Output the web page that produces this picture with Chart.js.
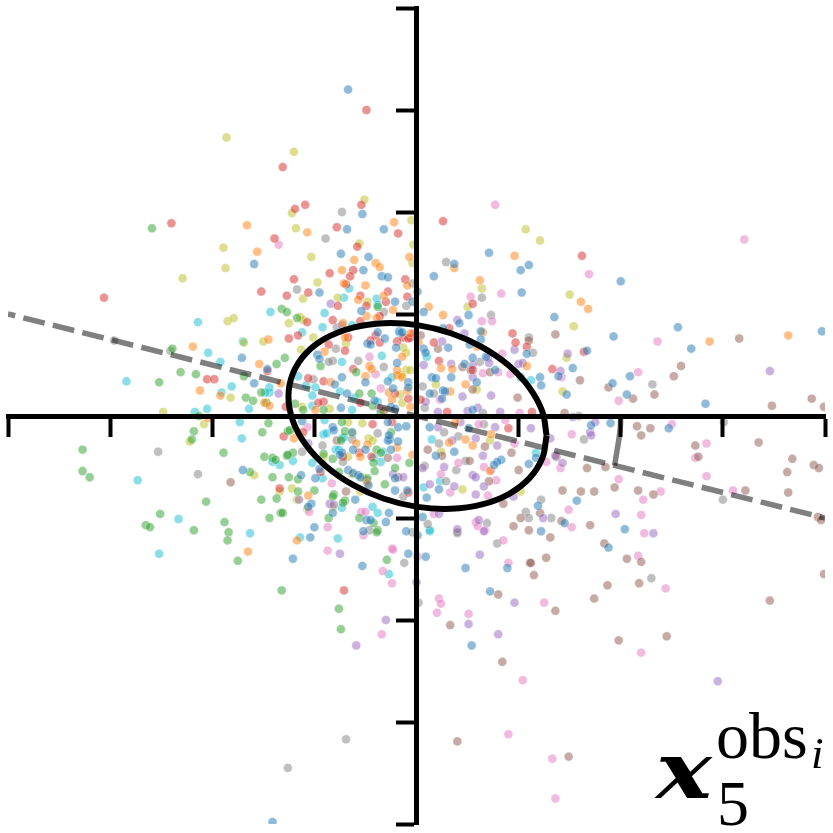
<!DOCTYPE html>
<html>
<head>
<meta charset="utf-8">
<style>html,body{margin:0;padding:0;background:#fff}canvas{display:block}</style>
<script src="https://cdn.jsdelivr.net/npm/chart.js@4"></script>
</head>
<body>
<canvas id="c" width="833" height="833"></canvas>
<script>
const tickValues = [-400,-300,-200,-100,0,100,200,300,400];
const seriesNames = ['0','1','2','3','4','5','6','7','8','9'];
const blue = [[-67,320],[-159,149],[-171,57],[-146,46],[-159,32],[-170,-53],[-53,198],[-68,183],[-32,183],[-74,159],[-47,156],[-52,143],[-34,137],[-28,136],[-95,121],[-21,112],[-4,112],[-54,103],[-38,82],[-31,76],[-48,71],[-45,70],[-20,67],[-17,83],[-14,82],[-97,60],[-95,56],[-19,52],[-50,33],[-28,34],[-8,33],[-8,28],[-80,31],[-73,38],[-68,22],[-41,15],[-23,27],[-25,9],[-21,7],[-74,8],[-112,-5],[-82,-11],[-81,-14],[-63,-16],[-73,-36],[-75,-38],[-62,-33],[-50,-33],[-26,-23],[-28,-24],[-27,-19],[-18,-11],[-10,-10],[-28,-6],[-25,-33],[-18,-25],[-67,-53],[-62,-56],[-57,-58],[-55,-60],[-95,-52],[-113,-58],[-99,-61],[-21,-61],[-47,-68],[-21,-73],[-9,-73],[-60,-82],[-103,-86],[-106,-89],[-82,-95],[-27,-95],[-30,-104],[-49,-102],[-45,-102],[-100,-109],[-52,-113],[-10,-113],[1,-117],[-104,-119],[-121,-140],[-8,-135],[9,-138],[89,-149],[48,-149],[-53,-147],[72,-172],[54,-225],[-141,-398],[188,-129],[135,97],[193,78],[256,87],[397,83],[269,66],[167,64],[153,47],[139,39],[192,32],[209,39],[147,21],[206,21],[283,12],[171,-9],[190,-7],[247,-12],[157,-83],[145,-105],[204,-111],[71,160],[110,148],[102,143],[37,149],[200,132],[17,137],[1,122],[103,121],[7,102],[51,99],[42,91],[26,86],[63,83],[63,75],[52,70],[31,67],[108,61],[7,66],[9,62],[55,57],[68,58],[47,51],[77,45],[102,38],[121,38],[122,30],[15,38],[19,37],[34,38],[59,33],[26,25],[28,24],[13,22],[25,17],[55,6],[13,-11],[51,-12],[37,-35],[19,-39],[83,-43],[79,-45],[76,-48],[117,-41],[110,-47],[22,-72],[10,-80],[119,-88],[6,-99],[122,-113]];
const orange = [[-166,187],[-156,161],[-145,75],[-219,68],[-154,51],[-133,32],[-212,25],[-192,20],[-149,13],[-144,10],[-204,-2],[-165,-133],[-22,190],[-107,180],[-61,153],[-7,156],[-40,150],[-36,146],[-73,143],[-9,128],[-71,130],[-50,128],[-57,114],[-32,118],[-23,104],[-49,98],[-72,91],[-39,96],[-70,77],[-6,81],[-90,63],[-14,58],[-46,49],[-44,46],[-50,39],[-19,45],[-19,40],[-14,38],[-84,33],[-27,23],[-24,16],[-9,25],[-99,6],[-6,9],[-120,-22],[-59,-27],[-48,-28],[-55,-40],[-19,-31],[-4,-38],[-48,-66],[-106,-78],[-117,-122],[161,112],[168,105],[287,73],[364,79],[96,157],[37,145],[62,133],[12,107],[26,99],[65,82],[59,68],[2,72],[35,46],[24,47],[108,49],[48,31],[33,24],[38,-6],[48,-23],[32,-26],[55,-29],[73,-18],[72,-54]];
const green = [[-259,184],[-132,105],[-239,66],[-137,51],[-231,43],[-216,41],[-252,33],[-169,39],[-167,18],[-160,15],[-152,23],[-147,13],[-213,0],[-145,-7],[-218,-15],[-151,-16],[-220,-23],[-327,-33],[-189,-36],[-149,-40],[-141,-41],[-138,-43],[-127,-39],[-327,-54],[-320,-60],[-163,-55],[-141,-60],[-206,-84],[-152,-82],[-137,-81],[-251,-96],[-133,-95],[-144,-100],[-265,-107],[-261,-109],[-188,-104],[-218,-112],[-184,-114],[-185,-122],[-175,-142],[-127,102],[-117,96],[-38,107],[-129,57],[-94,49],[-59,43],[-56,22],[-91,6],[-119,12],[-111,6],[-44,22],[-43,10],[-35,3],[-126,-15],[-124,-14],[-73,-6],[-70,-15],[-74,-24],[-91,-37],[-39,-33],[-121,-36],[-126,-38],[-82,-42],[-25,-16],[-35,-36],[-42,-46],[-7,-46],[-76,-55],[-21,-51],[-41,-54],[-125,-60],[-116,-62],[-48,-61],[-31,-67],[-100,-73],[-116,-74],[-81,-77],[-82,-79],[-70,-83],[-72,-85],[-86,-100],[-131,-95],[-56,-100],[-42,-105],[-38,-112],[-39,-114],[-29,-141],[-132,-171],[-76,-189],[-74,-209]];
const red = [[-49,300],[-131,244],[-240,189],[-139,174],[-152,122],[-306,116],[-205,36],[-198,36],[-146,44],[-130,-20],[-134,-71],[-54,207],[-109,207],[-119,203],[-18,179],[-78,185],[-58,166],[-62,143],[-85,140],[-65,137],[-120,134],[-11,134],[-69,129],[-106,121],[-28,122],[-127,118],[-55,118],[-9,117],[-30,112],[-77,108],[-49,108],[-36,98],[-107,92],[-82,94],[-55,93],[-116,79],[-125,76],[-40,79],[-67,77],[-3,81],[-13,77],[-86,70],[-70,64],[-45,74],[-36,72],[-19,73],[-6,77],[-8,76],[-62,46],[-106,37],[-91,34],[-91,14],[-96,13],[-55,13],[-128,9],[-21,22],[-8,17],[-32,5],[-111,-16],[-43,-8],[-24,-6],[-56,-36],[-72,-40],[-94,-55],[-44,-40],[-8,-75],[-71,-171],[164,63],[133,46],[26,191],[162,157],[55,110],[32,86],[94,81],[97,72],[17,72],[108,68],[22,54],[55,45],[4,16],[30,4],[113,4],[90,-12]];
const purple = [[-135,22],[-84,110],[-73,89],[-106,-27],[-23,-57],[-13,-60],[-115,-82],[-85,-86],[-81,-87],[-75,-135],[0,-163],[62,-136],[66,-113],[96,-183],[-30,-200],[51,-204],[80,-214],[-59,-225],[295,-260],[148,61],[141,44],[346,44],[153,-1],[175,-6],[170,-16],[171,-19],[131,-22],[136,-39],[143,-46],[195,-96],[232,-115],[40,94],[47,81],[25,73],[96,65],[70,57],[34,51],[55,50],[71,52],[100,51],[104,52],[7,50],[55,38],[45,19],[73,20],[60,8],[50,5],[82,4],[9,14],[21,4],[77,-11],[112,-12],[43,-6],[21,-11],[35,-24],[58,-22],[79,-29],[65,-39],[27,-50],[6,-51],[55,-58],[58,-60],[66,-69],[37,-69],[13,-67],[58,-77],[95,-79],[124,-100],[22,-96],[61,-102],[40,-111]];
const brown = [[-182,-65],[-78,-24],[-28,-41],[-18,-60],[-49,-63],[-69,-74],[80,-175],[111,-144],[33,-205],[84,-241],[40,-319],[184,-125],[127,-139],[112,-144],[115,-156],[206,-140],[220,-143],[187,-166],[218,-164],[174,-179],[136,-191],[399,-155],[346,-181],[198,-220],[245,-216],[149,-334],[136,80],[316,76],[259,49],[252,39],[160,35],[188,28],[212,17],[233,21],[387,17],[348,10],[399,9],[145,3],[216,-10],[229,-12],[220,-19],[273,-29],[335,-26],[137,-40],[276,-40],[368,-42],[167,-51],[185,-50],[389,-48],[394,-51],[363,-55],[194,-70],[143,-73],[161,-74],[174,-74],[217,-73],[232,-77],[322,-73],[364,-75],[393,-99],[396,-102],[142,-103],[170,-107],[131,-119],[4,79],[21,66],[110,74],[45,48],[53,45],[72,43],[55,26],[99,18],[11,-33],[67,-30],[25,-39],[93,-36],[52,-44],[100,-53],[71,-64],[85,-86],[102,-100],[121,-95],[95,-108],[110,-112]];
const pink = [[321,173],[-135,168],[-46,58],[-40,41],[-35,27],[-37,8],[-107,-11],[-19,-41],[-83,-66],[-105,-94],[-54,-94],[-50,-94],[-87,-109],[-52,-117],[-87,-132],[-24,-130],[-23,-131],[1,-138],[90,-144],[85,-122],[-33,-152],[-24,-164],[22,-179],[24,-184],[20,-193],[51,-194],[-34,-214],[104,-259],[90,-312],[217,-137],[244,-169],[125,-183],[220,-232],[133,-336],[136,-375],[236,73],[142,38],[217,43],[198,15],[250,-8],[152,-18],[284,-27],[273,-41],[141,-51],[284,-59],[198,-62],[239,-74],[310,-73],[222,-82],[149,-92],[220,-97],[152,-109],[223,-115],[77,207],[169,139],[83,120],[53,117],[64,93],[74,93],[84,61],[65,42],[80,43],[92,41],[23,16],[101,3],[87,-4],[61,-8],[41,-46],[66,-50],[96,-27],[127,-45],[73,-53],[24,-57],[78,-63],[33,-75],[70,-78],[17,-96],[58,-104],[60,-108],[67,-112]];
const gray = [[-241,64],[-296,74],[-253,-35],[-214,-57],[-73,200],[-89,174],[-4,130],[-117,124],[-10,108],[-32,102],[-78,87],[-79,66],[-82,54],[-86,53],[-57,54],[-32,48],[-101,36],[-38,-17],[-63,-23],[-92,-29],[-72,-45],[-112,-35],[-13,-79],[-46,-112],[-4,-114],[-12,-144],[2,-183],[-69,-317],[-126,-345],[40,-115],[79,-125],[230,-159],[231,31],[159,0],[301,-6],[164,-23],[300,-82],[132,-100],[29,151],[64,116],[73,99],[110,77],[114,62],[62,53],[6,29],[17,22],[8,8],[65,3],[66,-8],[27,-16],[41,-20],[22,-27],[48,-44],[8,-49],[39,-53],[29,-64],[122,-82],[107,-94],[110,-100],[11,-106],[69,-105],[40,-114]];
const olive = [[-186,273],[-120,259],[-189,165],[-187,145],[-229,135],[-185,93],[-179,96],[-169,72],[-150,73],[-182,18],[-248,4],[-208,-8],[-222,-25],[-159,-58],[-134,-74],[-51,212],[-122,199],[-5,192],[-118,184],[-56,169],[-3,168],[-103,156],[-4,150],[-97,131],[-77,116],[-111,115],[-48,112],[-114,97],[-111,94],[-125,91],[-101,77],[-69,71],[-113,65],[-13,67],[-10,62],[-10,45],[-6,45],[-15,40],[-16,21],[-14,13],[-85,7],[-112,9],[-67,-6],[-53,-7],[-63,-17],[-47,-22],[-43,-24],[-67,-40],[-91,-40],[-63,-57],[-53,-60],[-122,-71],[-55,-74],[-117,-82],[-82,-89],[-107,-91],[147,57],[154,88],[143,24],[107,183],[121,172],[64,125],[150,119],[50,107],[19,31],[59,26],[24,-35],[72,-24],[45,-72],[102,-74]];
const cyan = [[-143,102],[-214,92],[-170,73],[-204,62],[-192,53],[-284,34],[-181,29],[-191,23],[-144,28],[-144,23],[-148,23],[-164,7],[-205,7],[-217,4],[-173,-6],[-171,-22],[-141,-45],[-134,-48],[-273,-63],[-233,-101],[-163,-115],[-252,-135],[-66,125],[-71,116],[-39,115],[-38,109],[-90,101],[-92,87],[-63,89],[-112,82],[-16,81],[-73,53],[-34,59],[-24,38],[-116,39],[-108,30],[-99,28],[-75,24],[-102,20],[-61,18],[-102,10],[-63,6],[-38,14],[-90,-4],[-91,-18],[-88,-17],[-73,-22],[-71,-21],[-79,-33],[-76,-33],[-33,-35],[-121,-44],[-102,-46],[-42,-41],[-35,-45],[-92,-61],[-73,-90],[-43,-89],[-38,-95],[-114,-119],[-77,-120],[-27,-155],[13,-113],[10,58],[112,35],[15,-23],[117,-36],[23,-64],[7,-70],[13,-112]];
const ellipseX = [127.4,123.1,110.4,90.4,64.2,33.7,1,-31.8,-62.2,-88.4,-108.5,-121.1,-125.4,-121.1,-108.5,-88.4,-62.2,-31.8,1,33.7,64.2,90.4,110.4,123.1,127.4];
const ellipseY = [-19.1,-41.6,-61.2,-76.5,-86.7,-91,-89.1,-81.1,-67.6,-49.5,-28,-4.6,19.1,41.6,61.2,76.5,86.7,91,89.1,81.1,67.6,49.5,28,4.6,-19.1];
const dashX = [-400,400];
const dashY = [100,-100];
const arcX = [200,199.5,198,196,194];
const arcY = [0,-12,-24,-36,-48.5];
const palette = ['#1f77b4','#ff7f0e','#2ca02c','#d62728','#9467bd','#8c564b','#e377c2','#7f7f7f','#bcbd22','#17becf'];
const groups = [blue,orange,green,red,purple,brown,pink,gray,olive,cyan];
const toPoints = (xs,ys) => xs.map((x,i)=>({x,y:ys[i]}));

const scatterSets = groups.map((g,i)=>({
  label: seriesNames[i],
  data: g.map(p=>({x:p[0],y:p[1]})),
  pointBackgroundColor: palette[i]+'80',
  pointBorderColor: 'rgba(255,255,255,0.45)',
  pointBorderWidth: 0.8,
  pointRadius: 4.5,
  order: 5
}));

const labelPlugin = {
  id:'formulaLabel',
  afterDraw(chart){
    const c = chart.ctx;
    c.save();
    c.fillStyle='#000';
    c.textBaseline='alphabetic';
    c.textAlign='left';
    c.save();
    c.translate(656,798);
    c.scale(1.2,1);
    c.font='italic bold 78px "DejaVu Serif"';
    c.fillText('x',0,0);
    c.restore();
    c.font='66px "Liberation Serif"';
    c.fillText('obs',716,758);
    c.font='italic 45px "Liberation Serif"';
    c.fillText('i',811,768);
    c.font='64px "Liberation Serif"';
    c.fillText('5',717,825);
    c.restore();
  }
};

new Chart(document.getElementById('c'),{
  type:'scatter',
  data:{datasets:[
    ...scatterSets,
    {label:'axis',data:toPoints(dashX,dashY),showLine:true,pointRadius:0,borderColor:'rgba(0,0,0,0.5)',borderWidth:5.5,borderDash:[22,8.4],borderDashOffset:14.6,borderCapStyle:'butt',order:3},
    {label:'arc',data:toPoints(arcX,arcY),showLine:true,pointRadius:0,borderColor:'rgba(0,0,0,0.5)',borderWidth:5.5,tension:0.3,order:3},
    {label:'ellipse',data:toPoints(ellipseX,ellipseY),showLine:true,pointRadius:0,borderColor:'#000',borderWidth:6,tension:0.4,cubicInterpolationMode:'default',order:2,clip:false}
  ]},
  options:{
    responsive:false,
    animation:false,
    devicePixelRatio:1,
    layout:{padding:{left:8,right:8,top:8,bottom:9}},
    plugins:{legend:{display:false},tooltip:{enabled:false},title:{display:false}},
    scales:{
      x:{type:'linear',min:-400,max:400,position:{y:0},
        afterBuildTicks(s){s.ticks=tickValues.map(v=>({value:v}));},
        ticks:{display:false},
        grid:{drawOnChartArea:false,drawTicks:true,tickLength:18,tickWidth:4,tickColor:'#000',z:2},
        border:{display:true,color:'#000',width:5,z:2}},
      y:{type:'linear',min:-400,max:400,position:{x:0},
        afterBuildTicks(s){s.ticks=tickValues.map(v=>({value:v}));},
        ticks:{display:false},
        grid:{drawOnChartArea:false,drawTicks:true,tickLength:18,tickWidth:4,tickColor:'#000',z:2},
        border:{display:true,color:'#000',width:5,z:2}}
    }
  },
  plugins:[labelPlugin]
});
</script>
</body>
</html>
